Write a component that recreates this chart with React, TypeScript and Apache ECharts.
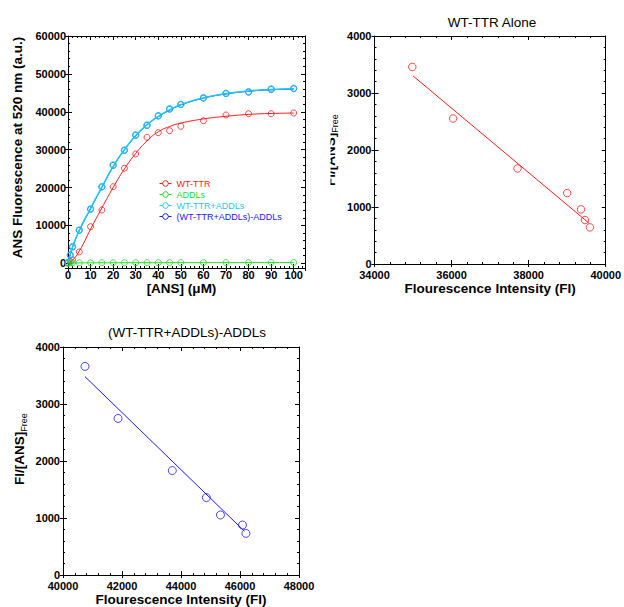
import React, { useEffect, useRef } from "react";
import * as echarts from "echarts";

// ---------- Data: ANS titration (panel 1) ----------
const ansConc = [0, 1, 2, 5, 10, 15, 20, 25, 30, 35, 40, 45, 50, 60, 70, 80, 90, 100];
const wtTTR = [0, 400, 900, 3000, 9670, 14070, 20220, 25080, 28850, 33260, 34475, 35000, 36165, 37640, 39150, 39490, 39490, 39675];
const addls = [60, 90, 110, 130, 120, 150, 140, 160, 150, 170, 160, 180, 170, 180, 190, 180, 200, 190];
const wtPlusAddls = [200, 2200, 4380, 8790, 14330, 20220, 25950, 29900, 33870, 36500, 38960, 40810, 41970, 43710, 44870, 45300, 46010, 46190];
const wtPlusAddlsMinus = [150, 2100, 4300, 8700, 14250, 20150, 25850, 29800, 33800, 36400, 38900, 40700, 41900, 43600, 44800, 45200, 45900, 46100];

// fitted curves
const fitConc = [0, 2, 5, 10, 15, 20, 25, 30, 35, 40, 45, 50, 60, 70, 80, 90, 100];
const wtTTRFit = [0, 800, 3200, 9000, 14600, 20000, 24900, 29000, 32300, 34700, 36100, 37000, 38100, 38800, 39300, 39550, 39650];
const addlsFit = [60, 90, 110, 120, 130, 140, 150, 150, 160, 160, 170, 170, 180, 180, 190, 190, 190];
const wtPlusAddlsFit = [0, 4300, 8700, 14500, 20100, 25600, 30000, 33700, 36600, 38800, 40500, 41900, 43700, 44800, 45500, 45900, 46100];
const wtPlusAddlsMinusFit = [0, 4200, 8600, 14400, 20000, 25500, 29900, 33600, 36500, 38700, 40400, 41800, 43600, 44700, 45400, 45800, 46000];

const seriesNames = ["WT-TTR", "ADDLs", "WT-TTR+ADDLs", "(WT-TTR+ADDLs)-ADDLs"];

// ---------- Data: Scatchard-type plots ----------
const wtFI = [34981, 36040, 37712, 39001, 39360, 39462, 39590];
const wtRatio = [3457, 2552, 1676, 1244, 958, 771, 642];
const wtFitFI = [35000, 39560];
const wtFitRatio = [3300, 720];

const mixFI = [40746, 41865, 43706, 44860, 45338, 46084, 46200];
const mixRatio = [3660, 2747, 1833, 1359, 1054, 878, 732];
const mixFitFI = [40746, 46150];
const mixFitRatio = [3480, 770];

const panelTitles = ["WT-TTR Alone", "(WT-TTR+ADDLs)-ADDLs"];

// ---------- Styling ----------
const FONT = "'Liberation Sans', Arial, Helvetica, sans-serif";
const RED = "#ff1a1a";
const GREEN = "#22dd22";
const CYAN = "#1ec8f5";
const BLUE = "#1a1aff";
const colors = [RED, GREEN, CYAN, BLUE];

const zip = (xs: number[], ys: number[]) => xs.map((x, i) => [x, ys[i]]);

type ScaleDef = { min: number; max: number; interval?: number; splitNumber?: number; minorSplit: number };

function makeAxes(
  kind: "x" | "y",
  gridIndex: number,
  sc: ScaleDef,
  fmt: (v: number) => string,
  margin: number,
  name: string,
  nameGap: number,
  nameStyle: any
) {
  const common: any = {
    type: "value",
    gridIndex,
    min: sc.min,
    max: sc.max,
    splitLine: { show: false },
    minorSplitLine: { show: false },
  };
  if (sc.interval != null) common.interval = sc.interval;
  if (sc.splitNumber != null) common.splitNumber = sc.splitNumber;
  const mainPos = kind === "x" ? "bottom" : "left";
  const mirrorPos = kind === "x" ? "top" : "right";
  const line = { show: true, onZero: false, lineStyle: { color: "#000", width: 1 } };
  return [
    {
      ...common,
      position: mainPos,
      axisLine: line,
      axisTick: { show: true, inside: false, length: 3, lineStyle: { color: "#000" } },
      minorTick: { show: false },
      axisLabel: {
        show: true,
        margin,
        formatter: fmt,
        fontFamily: FONT,
        fontSize: 11,
        fontWeight: "bold",
        color: "#000",
      },
      name,
      nameLocation: "middle",
      nameGap,
      nameTextStyle: nameStyle,
    },
    {
      ...common,
      position: mainPos,
      axisLine: { show: false, onZero: false },
      axisTick: { show: true, inside: true, length: 4, lineStyle: { color: "#000" } },
      minorTick: { show: true, splitNumber: sc.minorSplit, length: 2, lineStyle: { color: "#000" } },
      axisLabel: { show: false },
    },
    {
      ...common,
      position: mirrorPos,
      axisLine: line,
      axisTick: { show: true, inside: true, length: 4, lineStyle: { color: "#000" } },
      minorTick: { show: true, splitNumber: sc.minorSplit, length: 2, lineStyle: { color: "#000" } },
      axisLabel: { show: false },
    },
  ];
}

const boldName = (padding: number[]) => ({
  fontFamily: FONT,
  fontSize: 13.5,
  fontWeight: "bold",
  color: "#000",
  padding,
});
const ratioName = (padding: number[]) => ({
  color: "#000",
  padding,
  rich: {
    a: { fontFamily: FONT, fontSize: 13.5, fontWeight: "bold", color: "#000" },
    b: { fontFamily: FONT, fontSize: 9, color: "#000", verticalAlign: "bottom", padding: [0, 0, -2, 0] },
  },
});

export default function App() {
  const ref = useRef<HTMLDivElement>(null);

  useEffect(() => {
    if (!ref.current) return;
    const chart = echarts.init(ref.current, undefined, { renderer: "svg" });

    const xAxes = [
      ...makeAxes("x", 0, { min: 0, max: 105, interval: 10, minorSplit: 5 }, (v) => (v % 10 === 0 ? String(v) : ""), 1, "[ANS] (μM)", 13, boldName([0, 10, 0, 0])),
      ...makeAxes("x", 1, { min: 34000, max: 40000, interval: 2000, minorSplit: 5 }, (v) => String(v), 5, "Flourescence Intensity (FI)", 17, boldName([0, 0, 0, 0])),
      ...makeAxes("x", 2, { min: 40000, max: 48000, interval: 2000, minorSplit: 5 }, (v) => String(v), 5, "Flourescence Intensity (FI)", 16, boldName([0, 0, 0, 0])),
    ];
    const yAxes = [
      ...makeAxes("y", 0, { min: -1250, max: 60000, splitNumber: 6, minorSplit: 5 }, (v) => (v % 10000 === 0 ? String(v) : ""), 2, "ANS Fluorescence at 520 nm (a.u.)", 44, boldName([0, 0, 0, 9])),
      ...makeAxes("y", 1, { min: 0, max: 4000, interval: 1000, minorSplit: 5 }, (v) => String(v), 3, "{a|FI/[ANS]}{b|Free}", 37, ratioName([0, 0, 0, 0])),
      ...makeAxes("y", 2, { min: 0, max: 4000, interval: 1000, minorSplit: 5 }, (v) => String(v), 3, "{a|FI/[ANS]}{b|Free}", 37, ratioName([0, 0, 0, 24])),
    ];

    const titrData = [wtTTR, addls, wtPlusAddls, wtPlusAddlsMinus];
    const fitData = [wtTTRFit, addlsFit, wtPlusAddlsFit, wtPlusAddlsMinusFit];
    // drawing order: blue under cyan, green on top
    const drawOrder = [0, 3, 2, 1];

    const series: any[] = [];
    drawOrder.forEach((i) => {
      series.push({
        name: seriesNames[i],
        type: "line",
        xAxisIndex: 0,
        yAxisIndex: 0,
        smooth: true,
        showSymbol: false,
        symbol: "circle",
        color: colors[i],
        lineStyle: { color: colors[i], width: i === 2 ? 1.5 : 1 },
        data: zip(fitConc, fitData[i]),
      });
      series.push({
        name: seriesNames[i],
        type: "scatter",
        xAxisIndex: 0,
        yAxisIndex: 0,
        symbol: "circle",
        symbolSize: 6,
        itemStyle: { color: "rgba(255,255,255,0)", borderColor: colors[i], borderWidth: i === 2 ? 1.3 : 1 },
        data: zip(ansConc, titrData[i]),
      });
    });

    series.push({
      type: "line",
      xAxisIndex: 3,
      yAxisIndex: 3,
      showSymbol: false,
      lineStyle: { color: RED, width: 1 },
      data: zip(wtFitFI, wtFitRatio),
    });
    series.push({
      type: "scatter",
      xAxisIndex: 3,
      yAxisIndex: 3,
      symbol: "circle",
      symbolSize: 7.5,
      itemStyle: { color: "rgba(255,255,255,0)", borderColor: RED, borderWidth: 1 },
      data: zip(wtFI, wtRatio),
    });
    series.push({
      type: "line",
      xAxisIndex: 6,
      yAxisIndex: 6,
      showSymbol: false,
      lineStyle: { color: BLUE, width: 1 },
      data: zip(mixFitFI, mixFitRatio),
    });
    series.push({
      type: "scatter",
      xAxisIndex: 6,
      yAxisIndex: 6,
      symbol: "circle",
      symbolSize: 8,
      itemStyle: { color: "rgba(255,255,255,0)", borderColor: BLUE, borderWidth: 1 },
      data: zip(mixFI, mixRatio),
    });

    chart.setOption({
      animation: false,
      backgroundColor: "#ffffff",
      textStyle: { fontFamily: FONT },
      grid: [
        { left: 68, top: 36, width: 237, height: 232, containLabel: false },
        { left: 374.5, top: 36, width: 234.5, height: 228, containLabel: false },
        { left: 63, top: 347, width: 236, height: 229, containLabel: false },
      ],
      xAxis: xAxes,
      yAxis: yAxes,
      legend: {
        orient: "vertical",
        left: 159,
        top: 179,
        padding: 0,
        itemWidth: 12,
        itemHeight: 7,
        itemGap: 2,
        selectedMode: false,
        textStyle: { fontFamily: FONT, fontSize: 9 },
        data: seriesNames.map((n, i) => ({
          name: n,
          textStyle: { color: colors[i] },
          itemStyle: { color: "#ffffff", borderColor: colors[i], borderWidth: 1 },
          lineStyle: { color: colors[i], width: 1 },
        })),
      },
      graphic: [
        {
          type: "rect",
          z: 100,
          shape: { x: 310, y: 80, width: 20.5, height: 150 },
          style: { fill: "#ffffff" },
        },
        {
          type: "text",
          z: 100,
          x: 492,
          y: 22,
          style: {
            text: panelTitles[0],
            font: `13.5px ${FONT}`,
            fill: "#000",
            align: "center",
            verticalAlign: "middle",
            textAlign: "center",
            textVerticalAlign: "middle",
          },
        },
        {
          type: "text",
          z: 100,
          x: 187,
          y: 332,
          style: {
            text: panelTitles[1],
            font: `13.5px ${FONT}`,
            fill: "#000",
            align: "center",
            verticalAlign: "middle",
            textAlign: "center",
            textVerticalAlign: "middle",
          },
        },
      ],
      series,
    });

    return () => chart.dispose();
  }, []);

  return (
    <div
      ref={ref}
      style={{ position: "absolute", left: 0, top: 0, width: 624, height: 607, background: "#fff" }}
    />
  );
}
